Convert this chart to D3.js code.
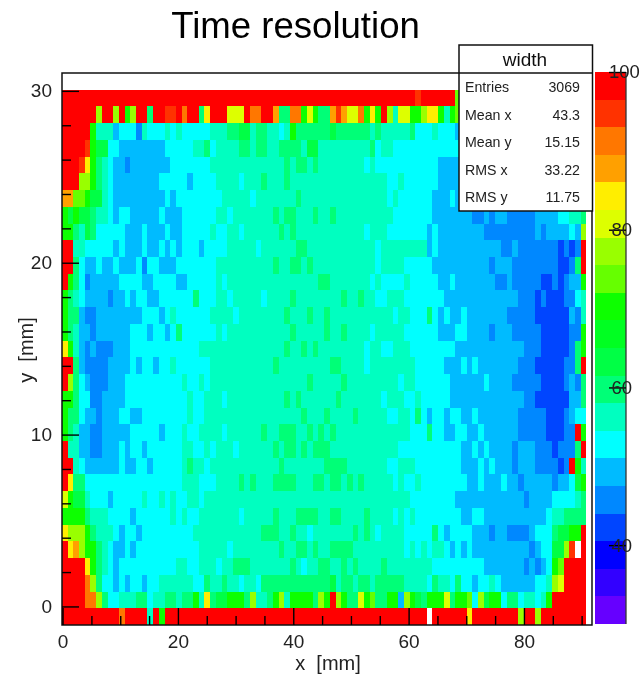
<!DOCTYPE html>
<html><head><meta charset="utf-8"><style>html,body{margin:0;padding:0;background:#fff}svg{display:block}text{font-family:"Liberation Sans",Arial,sans-serif}</style>
<script src="https://cdn.jsdelivr.net/npm/d3@7"></script></head><body><div id="c"></div><script>
const titleText="Time resolution", xLabel="x  [mm]", yLabel="y  [mm]";
const xMajor=[0,20,40,60,80], xMinor=[5,10,15,25,30,35,45,50,55,65,70,75,85,90];
const yMajor=[0,10,20,30], yMinor=[2,4,6,8,12,14,16,18,22,24,26,28];
const zTicks=[40,60,80,100];
const palette=["#6600ff","#3300ff","#0000ff","#0044ff","#0088ff","#00bbff","#00ffff","#00ffc0","#00ff77","#00ff44","#00ff22","#11ff00","#66ff00","#99ff00","#ddff00","#ffee00","#ffa000","#ff7700","#ff3300","#ff0000"];
const statsTitle="width", statsNames=["Entries","Mean x","Mean y","RMS x","RMS y"], statsValues=["3069","43.3","15.15","33.22","11.75"];
const row00=[98,62,95,1,98,6,74,1,null,22];
const row01=[98,6,77,1,98,2,77,1,98,1,70,1,77,1,98,2,60,1,98,2,95,2,98,1,91,1,98,2,60,1,84,1,98,3,81,3,98,1,91,2,98,2,88,1,60,2,91,2,70,1,81,1,70,1,60,2,88,1,95,1,88,1,81,2,91,1,70,1,84,1,70,1,98,1,77,1,56,1,81,2,70,2,77,1,84,2,70,1,56,1,70,1,74,1,null,22];
const row02=[98,5,70,1,56,3,49,1,53,3,46,1,56,1,53,3,56,1,53,1,56,1,53,5,56,3,60,2,63,2,56,1,60,2,56,2,53,1,56,1,70,1,60,6,63,1,60,6,56,1,60,1,56,5,60,1,53,3,56,1,53,3,49,1,null,22];
const row03=[98,4,95,1,70,1,63,2,53,2,49,8,53,5,56,2,60,1,53,1,56,4,60,2,56,1,60,2,56,2,60,4,56,1,63,2,56,9,60,1,53,1,56,2,53,12,null,22];
const row04=[98,3,95,1,84,1,70,1,60,1,56,1,53,1,49,2,46,1,49,7,53,7,56,13,60,1,56,1,60,2,56,1,60,1,56,8,53,1,56,1,53,11,49,4,null,22];
const row05=[98,3,77,2,70,1,60,1,56,1,53,1,49,8,53,5,49,1,53,4,56,4,53,1,56,3,60,1,56,3,60,1,56,17,53,2,56,1,53,6,49,4,null,22];
const row06=[88,2,74,2,70,1,63,2,56,1,53,1,49,9,53,1,49,1,53,8,56,5,53,1,56,7,60,1,56,15,53,1,56,1,53,6,49,3,53,1,49,1,null,22];
const row07=[70,1,63,1,70,1,63,2,60,1,56,2,53,1,49,1,53,2,49,5,53,1,49,3,53,6,56,2,53,1,56,7,60,1,56,1,60,2,56,3,60,1,56,2,60,1,56,10,53,7,49,7,46,2,49,1,46,1,49,2,46,5,49,4,53,2,56,2,60,1];
const row08=[70,2,60,1,56,1,63,1,60,1,53,5,49,3,53,1,49,3,53,1,49,2,53,5,56,1,53,2,56,2,53,1,56,6,60,1,56,1,60,1,56,12,53,1,56,3,53,7,49,1,53,1,49,8,46,9,49,1,46,1,49,4,53,1,49,1,77,1];
const row09=[98,2,56,2,53,5,49,1,53,1,49,3,53,1,49,2,53,1,49,1,53,1,49,1,53,3,49,1,53,4,56,5,53,1,56,6,60,2,56,12,53,1,56,8,49,1,53,1,49,11,46,2,49,1,46,7,42,1,46,1,42,1,46,1,98,1];
const row10=[98,2,60,1,53,1,49,2,53,1,49,2,53,1,49,3,53,1,46,1,53,2,49,3,53,7,56,10,60,1,56,2,60,2,56,1,60,1,56,11,53,1,56,4,53,5,49,10,46,1,49,3,46,8,42,2,46,1,60,1,98,1];
const row11=[98,1,70,1,60,1,53,1,46,1,49,5,53,4,49,2,53,4,49,2,53,5,56,1,53,1,56,16,60,2,56,7,53,1,56,1,53,4,56,1,53,5,49,2,53,1,49,7,46,2,49,1,46,5,42,2,46,1,42,1,46,1,49,2,70,1];
const row12=[70,1,60,1,56,1,53,1,49,4,46,1,49,2,53,1,49,1,53,2,49,2,53,6,60,1,53,3,56,2,53,1,56,5,53,1,56,4,60,1,56,8,60,1,56,2,60,1,56,2,53,2,56,3,53,7,49,13,46,3,42,1,46,1,42,3,46,2,53,1,56,1];
const row13=[70,1,60,2,49,1,46,2,49,8,53,3,49,1,53,1,56,1,53,6,56,4,53,1,56,8,60,1,56,3,60,1,56,2,60,1,56,11,53,1,56,2,53,3,60,1,53,1,49,1,53,1,49,2,53,1,49,7,46,5,42,6,49,1,46,1,56,1];
const row14=[70,1,60,1,56,1,49,2,46,1,49,6,53,3,49,1,53,2,49,1,53,1,60,1,53,6,56,1,53,1,56,11,60,1,56,5,60,1,56,2,60,1,56,4,53,1,56,5,53,6,49,3,53,2,49,4,46,1,49,3,46,5,42,5,46,2,70,1];
const row15=[84,1,70,1,56,1,49,1,46,1,49,1,46,3,49,3,53,12,56,15,60,1,56,2,60,1,56,1,60,1,56,8,53,1,56,2,53,2,56,3,53,8,49,12,46,3,42,5,46,1,60,1,70,1];
const row16=[98,2,60,1,49,1,46,4,49,4,53,1,49,1,53,2,49,1,53,2,56,1,53,6,56,11,60,1,56,9,60,2,56,4,53,1,56,8,53,5,49,3,53,1,49,1,53,1,49,7,46,3,42,5,46,2,60,1,98,1];
const row17=[98,1,77,1,60,1,53,1,49,1,46,3,49,3,53,10,56,1,53,2,56,1,53,1,56,17,60,1,56,5,60,1,56,9,53,1,56,2,53,6,49,6,53,1,49,4,46,5,42,4,46,1,49,1,46,1,60,1];
const row18=[70,2,60,1,53,2,46,2,49,4,53,11,56,1,53,2,56,3,53,1,56,10,60,1,56,1,60,1,56,6,60,1,56,7,53,1,56,3,53,2,56,1,53,5,49,13,46,2,42,6,49,2,60,1];
const row19=[70,1,60,2,53,1,49,2,46,1,49,3,53,2,49,2,53,8,56,1,53,2,56,17,60,1,56,3,60,1,56,4,60,1,56,5,53,2,56,2,53,1,60,1,53,1,49,1,53,2,49,1,53,2,49,2,53,1,49,7,46,5,42,3,46,1,49,1,53,2];
const row20=[70,1,60,1,56,1,49,2,46,2,49,5,53,5,49,1,53,3,56,1,53,2,56,4,53,1,56,6,60,1,56,2,60,3,56,2,60,1,56,1,60,1,56,1,60,1,56,13,53,3,60,1,53,2,49,2,53,2,49,2,53,1,49,6,46,5,42,3,46,2,98,1,70,1];
const row21=[98,1,56,2,49,2,46,2,49,3,53,1,49,1,53,2,49,1,53,6,56,2,53,2,56,1,53,1,56,3,53,1,56,6,60,1,56,1,60,2,56,1,60,1,56,1,60,3,56,12,53,11,49,2,53,1,49,1,53,1,49,4,46,1,49,3,46,3,42,1,46,3,60,1,98,1];
const row22=[98,2,56,1,53,1,49,6,53,1,49,2,53,2,49,1,53,5,56,1,60,1,56,2,53,1,56,12,60,1,56,7,60,4,56,7,53,2,56,3,53,8,49,3,53,1,49,1,53,1,49,3,46,1,49,3,46,4,42,1,46,1,98,1,70,1,56,1];
const row23=[98,1,84,1,60,2,53,17,56,3,53,3,56,4,60,1,56,1,60,1,56,3,60,4,56,3,60,2,56,1,60,2,56,1,60,1,56,1,60,1,56,5,53,1,56,1,53,2,56,1,53,8,49,2,53,1,49,3,53,1,49,2,46,1,49,5,46,1,49,2,53,1,63,1,70,1];
const row24=[81,1,70,1,63,2,56,1,53,3,49,1,53,5,56,1,53,2,56,1,53,1,56,1,53,2,56,2,53,1,56,36,53,8,49,12,46,1,49,4,53,4,56,1,60,1];
const row25=[70,4,60,1,56,3,53,4,49,1,53,6,56,1,53,1,56,1,53,2,56,7,53,1,56,5,60,1,56,3,60,4,56,2,60,2,56,4,60,1,56,4,53,1,56,1,53,1,56,1,53,8,49,2,53,2,49,11,53,1,56,2,60,4];
const row26=[84,1,77,3,70,1,60,1,56,3,53,1,49,1,53,2,49,1,53,9,56,12,60,3,56,2,60,1,56,2,53,1,56,7,60,1,56,1,60,1,56,1,53,1,56,4,53,5,60,1,53,1,49,1,53,4,49,3,46,1,49,2,46,4,49,1,53,3,60,1,63,2,70,2,98,1];
const row27=[98,1,84,1,88,1,77,1,70,2,60,1,56,1,53,1,49,2,53,1,49,1,53,11,56,5,53,1,56,8,60,1,56,2,60,2,56,1,60,1,56,2,60,4,56,9,53,1,56,1,53,1,56,1,53,1,56,2,53,1,49,1,53,1,49,1,53,1,49,10,46,1,49,1,53,2,63,2,77,1,95,1,null,1,98,1];
const row28=[98,4,84,1,70,1,60,1,56,1,53,1,49,1,53,10,56,2,53,2,56,3,53,1,56,2,60,3,56,7,60,1,56,1,53,1,56,2,60,2,56,2,60,1,56,1,60,1,56,4,60,1,56,8,53,9,49,7,46,1,49,1,46,1,49,1,53,1,70,1,74,1,98,4];
const row29=[98,4,91,1,77,1,60,1,53,2,49,1,53,1,49,1,53,2,49,1,53,2,56,6,53,2,60,1,56,2,60,1,56,2,53,1,56,2,53,1,60,12,63,1,56,1,60,2,56,1,60,2,56,1,60,5,56,4,53,1,60,1,56,2,53,1,60,1,53,2,49,1,53,2,56,1,53,1,49,6,53,2,56,1,77,1,81,1,98,4];
const row30=[98,4,91,2,77,1,60,1,53,2,56,3,60,2,53,1,56,2,60,2,56,1,60,2,70,1,56,1,84,1,60,1,63,2,70,3,60,1,77,1,56,2,60,1,70,1,77,1,56,1,70,4,60,1,77,1,70,1,98,1,77,1,70,1,60,2,81,1,70,1,74,1,60,2,70,2,49,1,77,1,70,1,63,1,60,1,70,3,81,1,60,1,70,2,74,1,53,1,77,1,63,1,70,2,53,1,60,2,53,1,56,2,53,1,56,1,70,1,98,6];
const row31=[98,10,91,1,98,4,56,1,98,1,70,1,98,46,null,1,98,6,84,1,98,8,77,1,98,2,77,1,98,8];
const rows=[row00,row01,row02,row03,row04,row05,row06,row07,row08,row09,row10,row11,row12,row13,row14,row15,row16,row17,row18,row19,row20,row21,row22,row23,row24,row25,row26,row27,row28,row29,row30,row31];

const W=640,H=675,L=62,R=592,T=73,B=625;
const svg=d3.select("#c").append("svg").attr("width",W).attr("height",H);
const defs=svg.append("defs");
defs.append("filter").attr("id","soft").attr("filterUnits","userSpaceOnUse").attr("x",0).attr("y",0).attr("width",W).attr("height",H).append("feGaussianBlur").attr("stdDeviation",0.5);
const root=svg.append("g").attr("filter","url(#soft)");
root.append("rect").attr("width",W).attr("height",H).attr("fill","#fff");
const x=d3.scaleLinear().domain([-0.1,91.8]).range([L,R]);
const y=d3.scaleLinear().domain([-1.08,31.04]).range([B,T]);
const z=d3.scaleLinear().domain([30,100]).range([624,72]);
const color=d3.scaleQuantize().domain([30,100]).range(palette);
const colBand=d3.scaleBand().domain(d3.range(93)).range([L,R]);
const rowBand=d3.scaleBand().domain(d3.range(33)).range([T,B]);
const cells=[];
rows.forEach((runs,r)=>{let c=0;for(let i=0;i<runs.length;i+=2){for(let k=0;k<runs[i+1];k++,c++){if(runs[i]!==null)cells.push({r:r+1,c:c,v:runs[i]});}}});
root.append("g").attr("shape-rendering","crispEdges").selectAll("rect").data(cells).join("rect")
 .attr("x",d=>colBand(d.c)).attr("y",d=>rowBand(d.r))
 .attr("width",colBand.bandwidth()).attr("height",rowBand.bandwidth())
 .attr("fill",d=>color(d.v));
// colour bar
const zEdges=d3.range(palette.length);
root.append("g").attr("shape-rendering","crispEdges").selectAll("rect").data(zEdges).join("rect")
 .attr("x",595).attr("width",31)
 .attr("y",i=>z(color.invertExtent(palette[i])[1]))
 .attr("height",i=>z(color.invertExtent(palette[i])[0])-z(color.invertExtent(palette[i])[1]))
 .attr("fill",i=>palette[i]);
const axisStyle=(g,fs)=>{g.select(".domain").remove();g.selectAll("line").attr("stroke","#000").attr("stroke-width",1.4);g.selectAll("text").attr("font-size",fs).attr("fill","#222");};
// frame
root.append("rect").attr("x",L).attr("y",T).attr("width",R-L).attr("height",B-T).attr("fill","none").attr("stroke","#111").attr("stroke-width",1.5);
// axes
root.append("g").attr("transform",`translate(0,${B})`).call(d3.axisBottom(x).tickValues(xMajor).tickSize(-17).tickPadding(8).tickFormat(d3.format("d"))).call(g=>axisStyle(g,19)).selectAll("text").attr("dy","0.8em");
root.append("g").attr("transform",`translate(0,${B})`).call(d3.axisBottom(x).tickValues(xMinor).tickSize(-9).tickFormat("")).call(g=>axisStyle(g,19));
root.append("g").attr("transform",`translate(${L},0)`).call(d3.axisLeft(y).tickValues(yMajor).tickSize(-17).tickPadding(10).tickFormat(d3.format("d"))).call(g=>axisStyle(g,19));
root.append("g").attr("transform",`translate(${L},0)`).call(d3.axisLeft(y).tickValues(yMinor).tickSize(-9).tickFormat("")).call(g=>axisStyle(g,19));
// z axis
root.append("line").attr("x1",626).attr("x2",626).attr("y1",72).attr("y2",624).attr("stroke","#333").attr("stroke-width",1.3);
const zg=root.append("g").attr("transform","translate(626,0)").call(d3.axisLeft(z).tickValues(zTicks).tickSize(17).tickFormat(d3.format("d")));
axisStyle(zg,18.5);
zg.selectAll("text").attr("text-anchor","start").attr("x",d=>d===100?-17:-14.5);
// titles
root.append("text").attr("x",295.5).attr("y",38).attr("text-anchor","middle").attr("font-size",36.6).attr("fill","#000").text(titleText);
root.append("text").attr("x",328).attr("y",670).attr("text-anchor","middle").attr("font-size",20).attr("fill","#222").style("white-space","pre").text(xLabel);
root.append("text").attr("transform","translate(33,350) rotate(-90)").attr("text-anchor","middle").attr("font-size",20).attr("fill","#222").style("white-space","pre").text(yLabel);
// stats box
const box=root.append("g");
box.append("rect").attr("x",459).attr("y",45).attr("width",133.5).attr("height",166).attr("fill","#fff").attr("stroke","#111").attr("stroke-width",1.5);
box.append("line").attr("x1",459).attr("x2",592.5).attr("y1",73).attr("y2",73).attr("stroke","#111").attr("stroke-width",1.5);
box.append("text").attr("x",525).attr("y",66).attr("text-anchor","middle").attr("font-size",19).attr("fill","#111").text(statsTitle);
const statY=d3.scalePoint().domain(statsNames).range([92,202]);
box.selectAll("text.n").data(statsNames).join("text").attr("class","n").attr("x",465).attr("y",d=>statY(d)).attr("font-size",14.2).attr("fill","#222").text(d=>d);
box.selectAll("text.v").data(statsValues).join("text").attr("class","v").attr("x",580).attr("y",(d,i)=>statY(statsNames[i])).attr("text-anchor","end").attr("font-size",14.2).attr("fill","#222").text(d=>d);
</script></body></html>
